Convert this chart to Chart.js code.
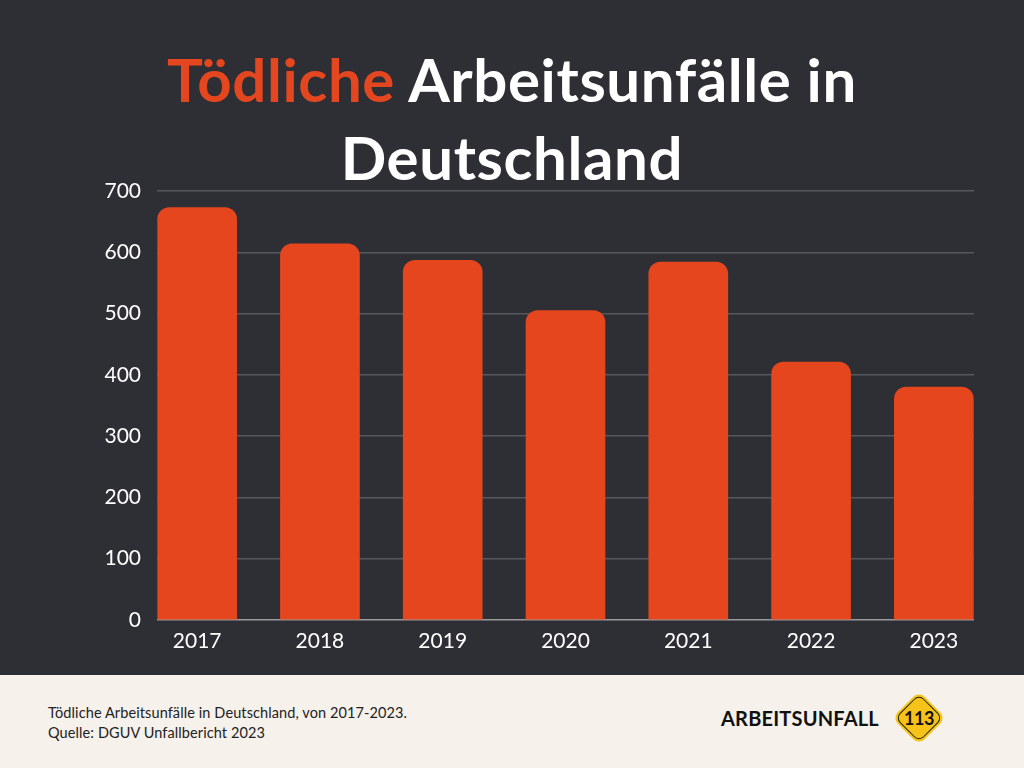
<!DOCTYPE html>
<html lang="de">
<head>
<meta charset="utf-8">
<title>Tödliche Arbeitsunfälle in Deutschland</title>
<script src="https://cdn.jsdelivr.net/npm/chart.js@4.4.0/dist/chart.umd.min.js"></script>
<style>
  html, body { margin: 0; padding: 0; }
  body { width: 1024px; height: 768px; position: relative; overflow: hidden; background: #2e2f34; font-family: "Lato", sans-serif; }
  #title { position: absolute; left: 0; top: 40px; width: 1024px; text-align: center; color: #ffffff; font-weight: 700; font-size: 60px; line-height: 78px; letter-spacing: 0.6px; }
  #title .hl { color: #e4471f; }
  #chart-wrap { position: absolute; left: 0; top: 0; width: 1024px; height: 675px; }
  #footer { position: absolute; left: 0; top: 675px; width: 1024px; height: 93px; background: #f6f1eb; }
  #note { position: absolute; left: 48px; top: 28px; font-size: 14.5px; line-height: 20px; color: #222; letter-spacing: 0.1px; }
  #brand { position: absolute; left: 721px; top: 31px; font-size: 20px; font-weight: 700; color: #111; letter-spacing: 0.2px; }
  #badge { position: absolute; left: 900px; top: 24px; width: 38px; height: 38px; background: #f6c419; border-radius: 8px; transform: rotate(45deg); }
  #badge .inner { position: absolute; left: 2px; top: 2px; width: 32px; height: 32px; border: 1.5px solid #222; border-radius: 7px; }
  #badge-num { position: absolute; left: 892px; top: 32px; width: 54px; text-align: center; font-size: 18px; font-weight: 700; color: #111; letter-spacing: -0.5px; }
</style>
</head>
<body>
<div id="chart-wrap"><canvas id="chart" width="1024" height="675"></canvas></div>
<div id="title"><span class="hl">Tödliche</span> Arbeitsunfälle in<br>Deutschland</div>
<div id="footer">
  <div id="note">Tödliche Arbeitsunfälle in Deutschland, von 2017-2023.<br>Quelle: DGUV Unfallbericht 2023</div>
  <div id="brand">ARBEITSUNFALL</div>
  <div id="badge"><div class="inner"></div></div>
  <div id="badge-num">113</div>
</div>
<script>
// Data
const years = ['2017', '2018', '2019', '2020', '2021', '2022', '2023'];
const deaths = [673, 614, 587, 505, 584, 421, 380];
const yTicks = [0, 100, 200, 300, 400, 500, 600, 700];

const points = years.map((y, i) => ({ x: i, y: deaths[i] }));

const ctx = document.getElementById('chart').getContext('2d');
new Chart(ctx, {
    type: 'bar',
    data: {
        datasets: [{
            label: 'Tödliche Arbeitsunfälle',
            data: points,
            backgroundColor: '#e5461e',
            borderRadius: 12,
            borderSkipped: 'start',
            barThickness: 79
        }]
    },
    options: {
        responsive: false,
        animation: false,
        layout: { padding: { top: 191, right: 50, left: 0, bottom: 0 } },
        plugins: {
            legend: { display: false },
            tooltip: { enabled: false },
            title: { display: false }
        },
        scales: {
            x: {
                type: 'linear',
                offset: false,
                min: -0.327,
                max: 6.327,
                afterFit: (scale) => { scale.height = 55; },
                grid: { display: false, drawTicks: false, offset: false },
                border: { display: false },
                ticks: {
                    stepSize: 1,
                    includeBounds: false,
                    padding: 9,
                    color: '#ffffff',
                    font: { family: 'Lato', size: 21 },
                    callback: (v) => Number.isInteger(v) ? years[v] : ''
                }
            },
            y: {
                min: 0,
                max: 700,
                afterFit: (scale) => { scale.width = 157; },
                afterBuildTicks: (scale) => { scale.ticks = yTicks.map(v => ({ value: v })); },
                border: { display: false },
                grid: {
                    drawTicks: false,
                    lineWidth: 1.5,
                    color: (c) => c.tick && c.tick.value === 0 ? '#9a9a9c' : '#56575c'
                },
                ticks: {
                    padding: 16,
                    color: '#ffffff',
                    font: { family: 'Lato', size: 21 }
                }
            }
        }
    }
});
</script>
</body>
</html>
